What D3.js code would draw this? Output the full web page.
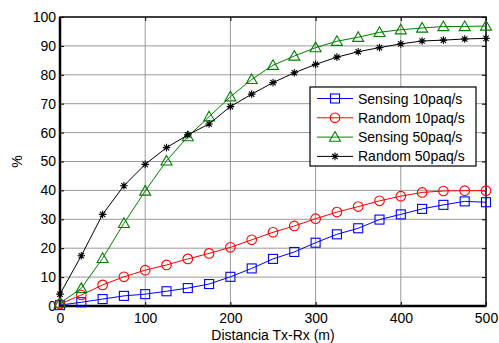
<!DOCTYPE html>
<html>
<head>
<meta charset="utf-8">
<script src="https://cdn.jsdelivr.net/npm/d3@7"></script>
<style>
  html, body { margin: 0; padding: 0; background: #fff; }
  svg { display: block; font-family: "Liberation Sans", Arial, sans-serif; }
</style>
</head>
<body>
<svg id="chart" width="499" height="343"></svg>
<script>
// distances (m)
const distances = [0, 25, 50, 75, 100, 125, 150, 175, 200, 225, 250, 275, 300, 325, 350, 375, 400, 425, 450, 475, 500];

const sensing10 = [0.3, 1.3, 2.4, 3.5, 4.1, 5.1, 6.2, 7.6, 10.1, 13.0, 16.3, 18.7, 21.9, 24.8, 26.9, 29.9, 31.7, 33.6, 35.0, 36.2, 35.9];
const random10 = [0.7, 3.8, 7.3, 10.1, 12.4, 14.2, 16.3, 18.2, 20.3, 22.9, 25.5, 27.7, 30.2, 32.5, 34.4, 36.4, 38.0, 39.3, 39.8, 39.9, 39.9];
const sensing50 = [1.0, 6.1, 16.5, 28.6, 39.8, 50.2, 58.6, 65.5, 72.4, 78.4, 83.3, 86.5, 89.4, 91.6, 93.0, 94.7, 95.6, 96.2, 96.7, 96.7, 96.9];
const random50 = [4.1, 17.4, 31.7, 41.6, 49.0, 54.8, 59.2, 63.0, 69.0, 73.3, 77.3, 80.7, 83.6, 86.1, 88.0, 89.4, 90.7, 91.7, 92.0, 92.4, 92.6];

const seriesNames = ["Sensing 10paq/s", "Random 10paq/s", "Sensing 50paq/s", "Random 50paq/s"];
const seriesColors = ["#0000ff", "#ff0000", "#008000", "#000000"];
const seriesMarkers = ["square", "circle", "triangle", "star"];
const seriesValues = [sensing10, random10, sensing50, random50];

const xTicks = [0, 100, 200, 300, 400, 500];
const yTicks = [0, 10, 20, 30, 40, 50, 60, 70, 80, 90, 100];

const svg = d3.select("#chart");
const plotLeft = 60, plotRight = 486, plotTop = 17, plotBottom = 306;

const x = d3.scaleLinear().domain([0, 500]).range([plotLeft, plotRight]);
const y = d3.scaleLinear().domain([0, 100]).range([plotBottom, plotTop]);

// grid
const grid = svg.append("g");
grid.selectAll(".gx").data(xTicks.slice(1, -1)).join("line")
  .attr("x1", d => x(d)).attr("x2", d => x(d))
  .attr("y1", plotTop).attr("y2", plotBottom)
  .attr("stroke", "#9a9a9a").attr("stroke-width", 1);
grid.selectAll(".gy").data(yTicks.slice(1, -1)).join("line")
  .attr("x1", plotLeft).attr("x2", plotRight)
  .attr("y1", d => y(d)).attr("y2", d => y(d))
  .attr("stroke", "#9a9a9a").attr("stroke-width", 1);

// axes
const fontSize = 14;
const xAxis = d3.axisBottom(x).tickValues(xTicks).tickSize(-4).tickPadding(7);
const yAxis = d3.axisLeft(y).tickValues(yTicks).tickSize(-4).tickPadding(4);
const gx = svg.append("g").attr("transform", `translate(0,${plotBottom})`).call(xAxis);
const gy = svg.append("g").attr("transform", `translate(${plotLeft},0)`).call(yAxis);
[gx, gy].forEach(g => {
  g.select(".domain").remove();
  g.selectAll("text").attr("font-size", fontSize).attr("fill", "#000")
    .attr("font-family", "Liberation Sans, Arial, sans-serif");
  g.selectAll("line").attr("stroke", "#000");
});
// top / right ticks
svg.append("g").attr("transform", `translate(0,${plotTop})`)
  .call(d3.axisTop(x).tickValues(xTicks).tickSize(-4).tickFormat(""))
  .call(g => g.select(".domain").remove());
svg.append("g").attr("transform", `translate(${plotRight},0)`)
  .call(d3.axisRight(y).tickValues(yTicks).tickSize(-4).tickFormat(""))
  .call(g => g.select(".domain").remove());

// box
svg.append("rect")
  .attr("x", plotLeft).attr("y", plotTop)
  .attr("width", plotRight - plotLeft).attr("height", plotBottom - plotTop)
  .attr("fill", "none").attr("stroke", "#000").attr("stroke-width", 1.5);
svg.append("line").attr("x1", plotLeft).attr("x2", plotLeft).attr("y1", plotTop).attr("y2", plotBottom + 1)
  .attr("stroke", "#000").attr("stroke-width", 2.5);
svg.append("line").attr("x1", plotLeft - 1).attr("x2", plotRight).attr("y1", plotBottom).attr("y2", plotBottom)
  .attr("stroke", "#000").attr("stroke-width", 2.5);

// labels
svg.append("text").attr("x", (plotLeft + plotRight) / 2).attr("y", 340)
  .attr("text-anchor", "middle").attr("font-size", fontSize).text("Distancia Tx-Rx (m)");
svg.append("text").attr("transform", `translate(22,${(plotTop + plotBottom) / 2}) rotate(-90)`)
  .attr("text-anchor", "middle").attr("font-size", fontSize).text("%");

// markers
function drawMarker(g, type, color, cx, cy) {
  if (type === "square") {
    g.append("rect").attr("x", cx - 4.5).attr("y", cy - 4.5).attr("width", 9).attr("height", 9)
      .attr("fill", "none").attr("stroke", color).attr("stroke-width", 1.1);
  } else if (type === "circle") {
    g.append("circle").attr("cx", cx).attr("cy", cy).attr("r", 4.8)
      .attr("fill", "none").attr("stroke", color).attr("stroke-width", 1.1);
  } else if (type === "triangle") {
    const s = 5.5;
    g.append("path").attr("d", `M${cx},${cy - s}L${cx + s},${cy + s * 0.75}L${cx - s},${cy + s * 0.75}Z`)
      .attr("fill", "none").attr("stroke", color).attr("stroke-width", 1.1);
  } else {
    const s = 3.8;
    g.append("path")
      .attr("d", `M${cx - s},${cy}L${cx + s},${cy}M${cx},${cy - s}L${cx},${cy + s}` +
        `M${cx - s * 0.7},${cy - s * 0.7}L${cx + s * 0.7},${cy + s * 0.7}` +
        `M${cx - s * 0.7},${cy + s * 0.7}L${cx + s * 0.7},${cy - s * 0.7}`)
      .attr("fill", "none").attr("stroke", color).attr("stroke-width", 1.1);
  }
}

const line = d3.line().x(d => x(d[0])).y(d => y(d[1]));
seriesValues.forEach((vals, i) => {
  const pts = distances.map((d, j) => [d, vals[j]]);
  const g = svg.append("g");
  g.append("path").datum(pts).attr("d", line)
    .attr("fill", "none").attr("stroke", seriesColors[i]).attr("stroke-width", 1);
  pts.forEach(p => drawMarker(g, seriesMarkers[i], seriesColors[i], x(p[0]), y(p[1])));
});

// legend
const lg = svg.append("g");
lg.append("rect").attr("x", 310).attr("y", 87).attr("width", 166).attr("height", 79)
  .attr("fill", "#fff").attr("stroke", "#000").attr("stroke-width", 1.2);
seriesNames.forEach((name, i) => {
  const ly = 98.5 + i * 19.3;
  lg.append("line").attr("x1", 317).attr("x2", 353).attr("y1", ly).attr("y2", ly)
    .attr("stroke", seriesColors[i]).attr("stroke-width", 1);
  drawMarker(lg, seriesMarkers[i], seriesColors[i], 335, ly);
  lg.append("text").attr("x", 358).attr("y", ly + 5).attr("font-size", fontSize).text(name);
});
</script>
</body>
</html>
